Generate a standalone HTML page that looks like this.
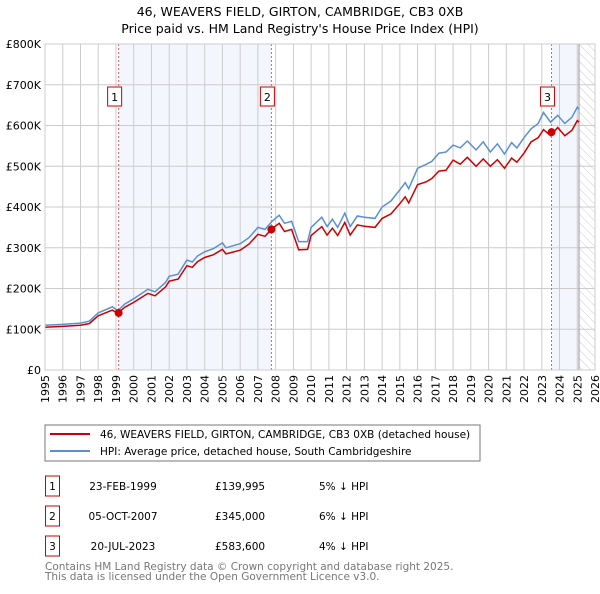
<!DOCTYPE html>
<html><head><meta charset="utf-8"><style>
body{margin:0;background:#fff;font-family:"DejaVu Sans","Liberation Sans",sans-serif;}
svg text{font-family:"DejaVu Sans","Liberation Sans",sans-serif;}
</style></head><body>
<svg id="c" width="600" height="590" xmlns="http://www.w3.org/2000/svg">
<defs><pattern id="hatch" width="6" height="6" patternUnits="userSpaceOnUse" patternTransform="rotate(-45)"><line x1="0" y1="0" x2="0" y2="6" stroke="#ccc" stroke-width="1"/></pattern></defs>
<text x="300" y="16" text-anchor="middle" font-size="12.5">46, WEAVERS FIELD, GIRTON, CAMBRIDGE, CB3 0XB</text>
<text x="300" y="33" text-anchor="middle" font-size="12.5">Price paid vs. HM Land Registry's House Price Index (HPI)</text>
<g id="plot"></g>
<rect x="45" y="425" width="435" height="36" fill="#fff" stroke="#777"/>
<line x1="50" y1="434" x2="90" y2="434" stroke="#cc0000" stroke-width="2"/>
<text x="100" y="438" font-size="10.5">46, WEAVERS FIELD, GIRTON, CAMBRIDGE, CB3 0XB (detached house)</text>
<line x1="50" y1="451" x2="90" y2="451" stroke="#5b8fd4" stroke-width="2"/>
<text x="100" y="455" font-size="10.5">HPI: Average price, detached house, South Cambridgeshire</text>
<g id="table" font-size="10.5"></g>
<text x="45" y="570" font-size="10.5" fill="#777">Contains HM Land Registry data © Crown copyright and database right 2025.</text>
<text x="45" y="580" font-size="10.5" fill="#777">This data is licensed under the Open Government Licence v3.0.</text>
</svg>
<script>
const yTicks=[0,100000,200000,300000,400000,500000,600000,700000,800000];
const yTickLabels=["£0","£100K","£200K","£300K","£400K","£500K","£600K","£700K","£800K"];
const xTickYears=[1995,1996,1997,1998,1999,2000,2001,2002,2003,2004,2005,2006,2007,2008,2009,2010,2011,2012,2013,2014,2015,2016,2017,2018,2019,2020,2021,2022,2023,2024,2025,2026];
const seriesYears=[1995,1996,1997,1997.5,1998,1998.8,1999.1,1999.5,2000,2000.8,2001.2,2001.8,2002,2002.5,2003,2003.3,2003.6,2004,2004.5,2005,2005.2,2006,2006.5,2007,2007.4,2007.8,2008.2,2008.5,2008.9,2009.3,2009.8,2010,2010.6,2010.9,2011.2,2011.5,2011.9,2012.2,2012.6,2013,2013.6,2014,2014.5,2015,2015.3,2015.5,2016,2016.5,2016.8,2017.2,2017.6,2018,2018.4,2018.8,2019.3,2019.7,2020.1,2020.5,2020.9,2021.3,2021.6,2022,2022.4,2022.8,2023.1,2023.5,2023.9,2024.3,2024.7,2025,2025.1];
const hpiValues=[110000,112000,115000,120000,140000,155000,145000,162000,175000,198000,192000,215000,230000,235000,270000,265000,280000,290000,298000,312000,300000,310000,325000,350000,345000,365000,380000,360000,365000,315000,315000,350000,375000,352000,370000,350000,385000,352000,378000,375000,372000,400000,415000,442000,460000,445000,495000,505000,512000,532000,535000,552000,545000,562000,540000,560000,535000,555000,530000,558000,545000,570000,592000,605000,632000,608000,625000,605000,620000,645000,640000];
const priceValues=[105000,107000,110000,114000,133000,147000,139000,154000,166000,188000,182000,204000,218000,223000,256000,252000,266000,276000,283000,296000,285000,294000,309000,333000,328000,347000,360000,340000,345000,295000,296000,330000,352000,331000,348000,330000,362000,331000,356000,353000,350000,372000,383000,408000,425000,410000,455000,462000,470000,488000,490000,515000,505000,522000,500000,518000,500000,516000,495000,520000,510000,532000,560000,570000,590000,575000,595000,575000,588000,612000,608000];
const saleYears=[1999.15,2007.76,2023.55];
const salePrices=[139995,345000,583600];
const saleLabels=["1","2","3"];
const saleDates=["23-FEB-1999","05-OCT-2007","20-JUL-2023"];
const salePriceText=["£139,995","£345,000","£583,600"];
const saleDiffText=["5% ↓ HPI","6% ↓ HPI","4% ↓ HPI"];
const dataEndYear=2025.1;

const NS="http://www.w3.org/2000/svg";
const L=45,R=595,T=44,B=370,X0=1995,X1=2026,YMAX=800000;
const xs=y=>L+(y-X0)/(X1-X0)*(R-L);
const ys=v=>B-v/YMAX*(B-T);
const plot=document.getElementById('plot');
function mk(tag,attrs,parent){const e=document.createElementNS(NS,tag);for(const k in attrs)e.setAttribute(k,attrs[k]);(parent||plot).appendChild(e);return e;}
let e;
e=mk('rect',{x:L,y:T,width:R-L,height:B-T,fill:'#fff'});


e=mk('rect',{x:xs(saleYears[0]),y:T,width:xs(saleYears[1])-xs(saleYears[0]),height:B-T,fill:'#f3f6fd'});


e=mk('rect',{x:xs(saleYears[2]),y:T,width:xs(dataEndYear)-xs(saleYears[2]),height:B-T,fill:'#f3f6fd'});


e=mk('rect',{x:xs(dataEndYear),y:T,width:R-xs(dataEndYear),height:B-T,fill:'url(#hatch)'});


xTickYears.forEach(y=>{
  e=mk('line',{x1:xs(y),x2:xs(y),y1:T,y2:B,stroke:'#ccc','stroke-width':1});
  
  
  e=mk('text',{x:0,y:0,transform:`translate(${xs(y)+4},${B+5}) rotate(-90)`,'text-anchor':'end','font-size':11});
  e.textContent=y;
  
  
});
yTicks.forEach((v,i)=>{
  e=mk('line',{x1:L,x2:R,y1:ys(v),y2:ys(v),stroke:'#ccc','stroke-width':1});
  
  
  e=mk('text',{x:L-4,y:ys(v)+4,'text-anchor':'end','font-size':11});
  e.textContent=yTickLabels[i];
  
  
});
e=mk('line',{x1:xs(dataEndYear),x2:xs(dataEndYear),y1:T,y2:B,stroke:'#999','stroke-width':1});


saleYears.forEach((y,i)=>{
  e=mk('line',{x1:xs(y),x2:xs(y),y1:T,y2:B,stroke:'#e06060','stroke-width':1,'stroke-dasharray':'2,2'});
  
  
});
const pts=v=>seriesYears.map((y,i)=>xs(y).toFixed(1)+','+ys(v[i]).toFixed(1)).join(' ');
e=mk('polyline',{points:pts(hpiValues),fill:'none',stroke:'#5b8fd4','stroke-width':1.5});


e=mk('polyline',{points:pts(priceValues),fill:'none',stroke:'#cc0000','stroke-width':1.5});


saleYears.forEach((y,i)=>{
  e=mk('circle',{cx:xs(y),cy:ys(salePrices[i]),r:4,fill:'#cc0000'});
  
  
  const bx=xs(y)-4;
  e=mk('rect',{x:bx-7,y:87,width:14,height:19,fill:'#fff',stroke:'#cc0000'});
  
  
  e=mk('text',{x:bx,y:101,'text-anchor':'middle','font-size':11});
  e.textContent=saleLabels[i];
  
  
});
e=mk('rect',{x:L,y:T,width:R-L,height:B-T,fill:'none',stroke:'#ccc'});


const tbl=document.getElementById('table');
saleLabels.forEach((s,i)=>{
  const cy=483+i*30;
  e=mk('rect',{x:45.5,y:cy-7,width:14,height:20,fill:'#fff',stroke:'#cc0000'},tbl);
  
  
  e=mk('text',{x:52.5,y:cy+7,'text-anchor':'middle'},tbl);e.textContent=s;
  
  
  e=mk('text',{x:123,y:cy+7,'text-anchor':'middle'},tbl);e.textContent=saleDates[i];
  
  
  e=mk('text',{x:215,y:cy+7},tbl);e.textContent=salePriceText[i];
  
  
  e=mk('text',{x:319,y:cy+7},tbl);e.textContent=saleDiffText[i];
  
  
});
</script>
</body></html>
